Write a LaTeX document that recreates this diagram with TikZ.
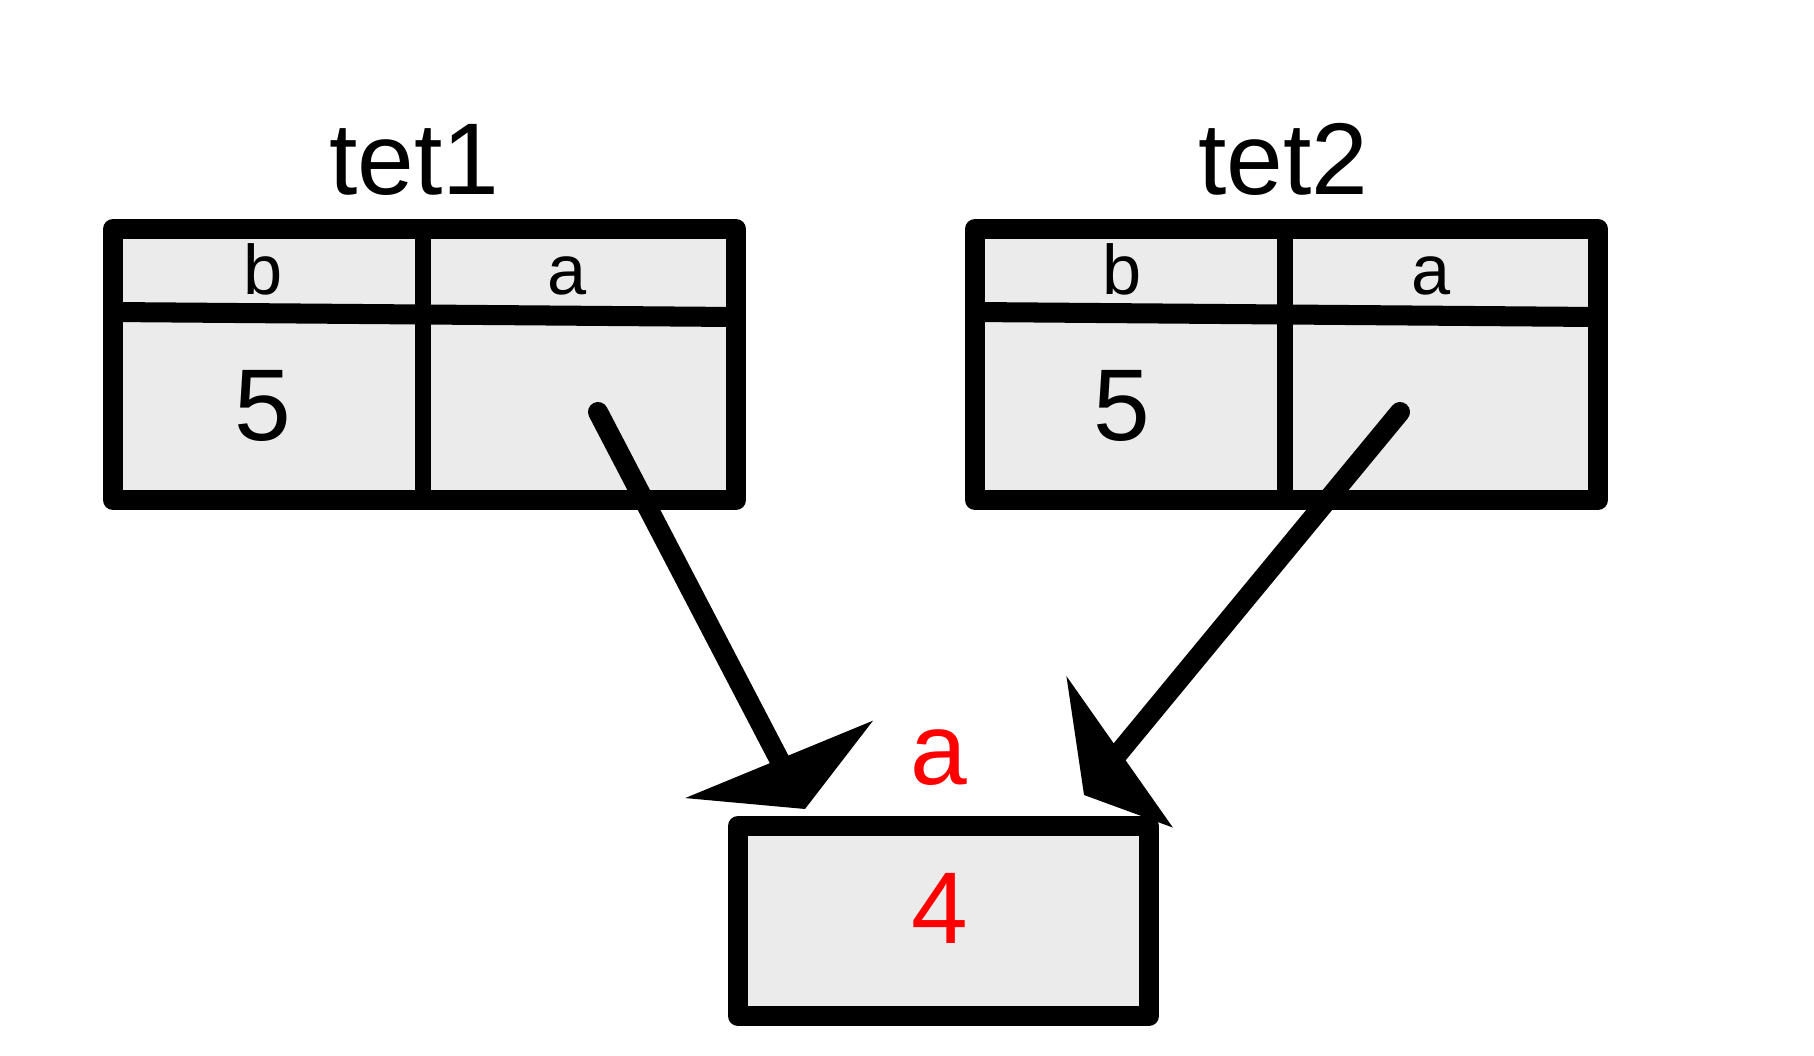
\documentclass[tikz,border=0pt]{standalone}
\usepackage{fontspec}
\setmainfont{Liberation Sans}
\usetikzlibrary{arrows.meta, positioning}
\definecolor{cellgray}{RGB}{235,235,235}
\definecolor{valred}{RGB}{255,0,0}

\begin{document}
\begin{tikzpicture}[
  x=0.1mm, y=-0.1mm,
  frame/.style={draw, fill=cellgray, line width=5.7pt, line join=round, inner sep=0pt, outer sep=0pt},
  rule/.style={line width=5.7pt},
  hdr/.style={font=\fontsize{20}{24}\selectfont, inner sep=0pt, anchor=base},
  big/.style={font=\fontsize{29}{35}\selectfont, inner sep=0pt, anchor=base},
  ptr/.style={line width=5.7pt, line cap=round}
]
  \useasboundingbox (0,0) rectangle (1814,1055);

  % record tet1
  \node[frame, minimum width=62.3mm, minimum height=27.1mm] (tet1) at (424.5,364.5) {};
  \draw[rule] ([yshift=-8.3mm]tet1.north west) -- ([yshift=-8.8mm]tet1.north east);
  \draw[rule, line width=4.3pt] ([xshift=31mm]tet1.north west) -- ([xshift=31mm]tet1.south west);
  \node[big] (tet1name) at (414,194) {tet1};
  \node[hdr] (tet1b) at (263,294) {b};
  \node[hdr] (tet1a) at (567,294) {a};
  \node[big] (tet1bval) at (263,440) {5};
  \coordinate (tet1ptr) at (598,412);

  % record tet2
  \node[frame, minimum width=62.3mm, minimum height=27.1mm] (tet2) at (1286.5,364.5) {};
  \draw[rule] ([yshift=-8.3mm]tet2.north west) -- ([yshift=-8.8mm]tet2.north east);
  \draw[rule, line width=4.3pt] ([xshift=31mm]tet2.north west) -- ([xshift=31mm]tet2.south west);
  \node[big] (tet2name) at (1283,194) {tet2};
  \node[hdr] (tet2b) at (1122,294) {b};
  \node[hdr] (tet2a) at (1431,294) {a};
  \node[big] (tet2bval) at (1122,440) {5};
  \coordinate (tet2ptr) at (1400,412);

  % shared value
  \node[frame, minimum width=41.1mm, minimum height=19mm] (aval) at (943.5,921) {};
  \node[big, text=valred] (avalname) at (939,784) {a};
  \node[big, text=valred] (avalnum) at (940,943) {4};
  \coordinate (tip1) at (805,809);
  \coordinate (tip2) at (1084,795);

  % references
  \draw[ptr, -{Triangle[width=20mm, length=5.6mm, slant=0.09]}] (tet1ptr) -- (tip1);
  \draw[ptr, -{Triangle[width=17.6mm, length=5.6mm, slant=0.275]}] (tet2ptr) -- (tip2);
\end{tikzpicture}
\end{document}
